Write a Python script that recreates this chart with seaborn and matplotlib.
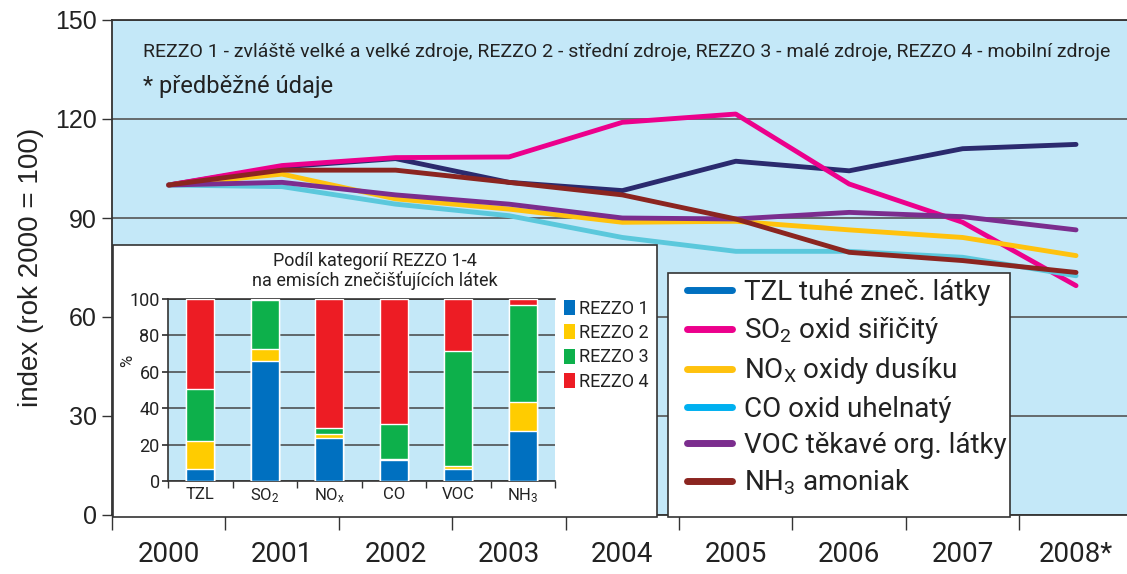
import numpy as np
import pandas as pd
import matplotlib.pyplot as plt
import seaborn as sns
from matplotlib.lines import Line2D
from matplotlib.patches import Rectangle, Patch

# ── Data ───────────────────────────────────────────────
years = ["2000", "2001", "2002", "2003", "2004", "2005", "2006", "2007", "2008*"]
tzl = [100, 105.5, 108, 100.8, 98.3, 107.2, 104.3, 111, 112.3]
so2 = [100, 105.9, 108.3, 108.5, 119, 121.5, 100.3, 88.7, 69.5]
nox = [100, 103.3, 95.8, 92.7, 88.7, 89, 86.4, 84.1, 78.6]
co = [100, 99.5, 94.2, 90.7, 84.1, 79.9, 79.9, 78.1, 72.5]
voc = [100, 100.8, 97, 94.2, 90, 89.7, 91.7, 90.4, 86.4]
nh3 = [100, 104.5, 104.5, 100.8, 97, 89.7, 79.6, 77.1, 73.5]

series_names = ["TZL tuhé zneč. látky", "SO$_2$ oxid siřičitý", "NO$_X$ oxidy dusíku",
                "CO oxid uhelnatý", "VOC těkavé org. látky", "NH$_3$ amoniak"]
series_vals = [tzl, so2, nox, co, voc, nh3]
line_colors = ["#2b2a6e", "#ec008c", "#ffc20e", "#5bc8dc", "#7b2d8e", "#8b2520"]
legend_colors = ["#0070c0", "#ec008c", "#ffc20e", "#00b0f0", "#7b2d8e", "#8b2520"]

pollutants = ["TZL", "SO$_2$", "NO$_x$", "CO", "VOC", "NH$_3$"]
rezzo1 = [6.6, 66.2, 23.9, 11.4, 6.6, 27.4]
rezzo2 = [15.3, 6.2, 1.7, 0.9, 1.9, 16.2]
rezzo3 = [28.8, 27.2, 3.6, 18.8, 63.0, 53.1]
rezzo4 = [49.3, 0.4, 70.8, 68.9, 28.5, 3.3]
rezzo_names = ["REZZO 1", "REZZO 2", "REZZO 3", "REZZO 4"]
rezzo_colors = ["#0070c0", "#ffcc00", "#0db04b", "#ed1c24"]

# ── Setup ──────────────────────────────────────────────
sns.set_theme(style="white")
plt.rcParams["font.family"] = ["Roboto", "DejaVu Sans"]
plt.rcParams["mathtext.default"] = "regular"
bg = "#c4e8f8"
dark = "#333333"
txt = "#222222"

W, H = 1127, 574
fig = plt.figure(figsize=(W / 100, H / 100), dpi=100)

def fx(px):
    return px / W

def fy(py):
    return 1 - py / H

# ── Main line chart ────────────────────────────────────
ax = fig.add_axes([fx(112), fy(515), fx(1135 - 112), fy(20) - fy(515)])
ax.set_facecolor(bg)
df = pd.DataFrame({"x": np.tile(np.arange(len(years)), len(series_names)),
                   "value": np.concatenate(series_vals),
                   "series": np.repeat(series_names, len(years))})
sns.lineplot(data=df, x="x", y="value", hue="series", hue_order=series_names,
             palette=line_colors, linewidth=3.5, legend=False, ax=ax, zorder=3)
ax.set_xlim(-0.5, 8.52)
ax.set_ylim(0, 150)
ax.set_yticks([0, 30, 60, 90, 120, 150])
ax.yaxis.grid(True, color="#555555", linewidth=1.2)
ax.set_axisbelow(True)
ax.tick_params(axis="y", left=True, length=7, width=1, color=dark, labelsize=18,
               labelcolor=txt, pad=4)
for t in ax.get_yticklabels():
    t.set_fontfamily(["Liberation Sans", "DejaVu Sans"])
ax.set_xticks(np.arange(len(years)))
ax.set_xticklabels(years, fontsize=20, color=txt)
ax.set_xticks(np.arange(len(years) + 1) - 0.5, minor=True)
ax.tick_params(axis="x", which="major", length=0, pad=19)
ax.tick_params(axis="x", which="minor", bottom=True, length=11, width=1, color=dark)
ax.set_xlabel("")
ax.set_ylabel("index (rok 2000 = 100)", fontsize=20, color=txt,
              family=["Liberation Sans", "DejaVu Sans"], labelpad=8)
for s in ["left", "top", "bottom"]:
    ax.spines[s].set_color(dark)
    ax.spines[s].set_linewidth(1.3)
ax.spines["right"].set_visible(False)

fig.text(fx(143), fy(52), "REZZO 1 - zvláště velké a velké zdroje, REZZO 2 - střední zdroje, "
         "REZZO 3 - malé zdroje, REZZO 4 - mobilní zdroje",
         fontsize=14, color=txt, va="center")
fig.text(fx(143), fy(86), "* předběžné údaje", fontsize=17, color=txt, va="center")

# ── Legend box ─────────────────────────────────────────
fig.patches.append(Rectangle((fx(668), fy(517)), fx(1010 - 668), fy(273) - fy(517),
                             transform=fig.transFigure, facecolor="white",
                             edgecolor=dark, linewidth=1.2, zorder=5))
handles = [Line2D([0], [0], color=c, linewidth=5, solid_capstyle="round")
           for c in legend_colors]
leg = fig.legend(handles, series_names, loc="upper left",
                 bbox_to_anchor=(fx(676), fy(268)), frameon=False, fontsize=20,
                 handlelength=1.6, handletextpad=0.45, labelspacing=0.33,
                 borderaxespad=0, labelcolor=txt)
leg.set_zorder(6)

# ── Inset box ──────────────────────────────────────────
fig.patches.append(Rectangle((fx(113), fy(517)), fx(657 - 113), fy(245) - fy(517),
                             transform=fig.transFigure, facecolor="white",
                             edgecolor=dark, linewidth=1.2, zorder=5))
fig.text(fx(375), fy(271), "Podíl kategorií REZZO 1-4\nna emisích znečišťujících látek",
         ha="center", va="center", fontsize=13, color=txt, linespacing=1.0,
         zorder=6)

ins = fig.add_axes([fx(168), fy(481), fx(555 - 168), fy(299) - fy(481)], zorder=6)
ins.set_facecolor(bg)
shares = pd.DataFrame({"pollutant": pollutants, "REZZO 1": rezzo1, "REZZO 2": rezzo2,
                       "REZZO 3": rezzo3, "REZZO 4": rezzo4})
cum = shares[rezzo_names].cumsum(axis=1)
for name, color in zip(rezzo_names[::-1], rezzo_colors[::-1]):
    sns.barplot(x=shares["pollutant"], y=cum[name], color=color, width=0.43,
                saturation=1, ax=ins, zorder=3)
ins.set_ylim(0, 100)
ins.set_xlim(-0.47, 5.5)
ins.set_yticks([0, 20, 40, 60, 80, 100])
ins.yaxis.grid(True, color="#444444", linewidth=1.1)
ins.set_axisbelow(True)
ins.set_xlabel("")
ins.set_ylabel("%", fontsize=12, labelpad=1, color=txt)
ins.yaxis.set_label_coords(-0.085, 0.66)
ins.set_xticks(np.arange(7) - 0.5, minor=True)
ins.tick_params(axis="x", which="major", length=0, labelsize=12, pad=4,
                labelcolor=txt)
ins.tick_params(axis="x", which="minor", bottom=True, length=5, color=dark)
ins.tick_params(axis="y", left=True, length=4, color=dark, labelsize=13, pad=2,
                labelcolor=txt)
for s in ins.spines.values():
    s.set_color(dark)
    s.set_linewidth(1.2)
ins.spines["right"].set_visible(False)

rez_handles = [Patch(facecolor=c, edgecolor="none") for c in rezzo_colors]
ins.legend(rez_handles, rezzo_names, loc="upper left", bbox_to_anchor=(1.005, 1.035),
           frameon=False, fontsize=13, handlelength=0.6, handleheight=0.9,
           handletextpad=0.2, labelspacing=0.35, borderaxespad=0, labelcolor=txt)

fig.savefig("out.png", dpi=100)
